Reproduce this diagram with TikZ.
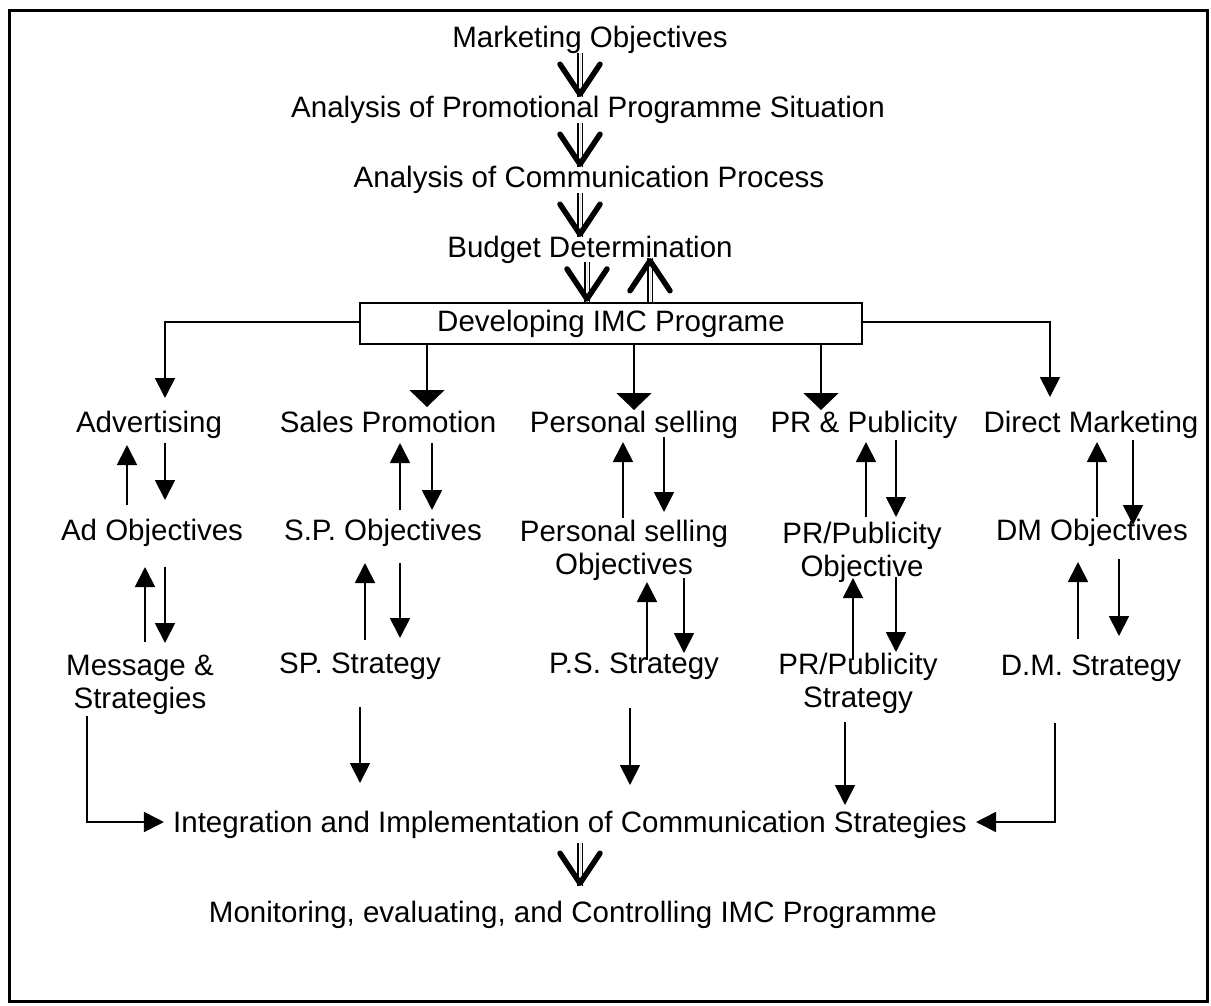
\documentclass[tikz,border=0pt]{standalone}
\usepackage{fontspec}
\setmainfont{Liberation Sans}
\usetikzlibrary{arrows.meta,calc}
\begin{document}
\begin{tikzpicture}[x=1pt,y=-1pt,
  txt/.style={font=\fontsize{29.5pt}{33pt}\selectfont, inner sep=0pt, align=center},
  one/.style={txt, text height=21pt, text depth=6pt},
  ln/.style={line width=1.8pt},
  arr/.style={ln, -{Triangle[width=20pt,length=20pt]}},
  warr/.style={ln, -{Triangle[width=35pt,length=17pt]}},
  elb/.style={ln, -{Triangle[width=20pt,length=20pt]}},
  dshaft/.style={double, double distance=3pt, line width=1.1pt},
  dhead/.style={line width=0.01pt, -{Straight Barb[length=30pt,width=40pt,line width=5.5pt,round]}}
]
\useasboundingbox (0,0) rectangle (1211,1005);
\draw[line width=3pt] (9,10) rectangle (1207,1001);

% planning sequence
\node[one] (mo)  at (590,40)  {Marketing Objectives};
\node[one] (aps) at (588,110) {Analysis of Promotional Programme Situation};
\node[one] (acp) at (589,180) {Analysis of Communication Process};
\node[one] (bd)  at (590,250) {Budget Determination};
\node[txt, draw, line width=2.6pt, minimum width=502pt, minimum height=41pt,
      text height=21pt, text depth=6pt] (imc) at (611,323.5) {Developing IMC Programe};

% promotion tools
\node[one] (adv) at (149,425)  {Advertising};
\node[one] (sp)  at (388,425)  {Sales Promotion};
\node[one] (ps)  at (634,425)  {Personal selling};
\node[one] (pr)  at (864,425)  {PR \& Publicity};
\node[one] (dm)  at (1091,425) {Direct Marketing};

% objectives
\node[one] (adobj) at (152,533)  {Ad Objectives};
\node[one] (spobj) at (383,533)  {S.P. Objectives};
\node[txt] (psobj) at (624,550)  {Personal selling\\Objectives};
\node[txt] (probj) at (862,552)  {PR/Publicity\\Objective};
\node[one] (dmobj) at (1092,533) {DM Objectives};

% strategies
\node[txt] (msg)  at (140,684.5) {Message \&\\Strategies};
\node[one] (spst) at (360,666)   {SP. Strategy};
\node[one] (psst) at (634,666)   {P.S. Strategy};
\node[txt] (prst) at (858,683)   {PR/Publicity\\Strategy};
\node[one] (dmst) at (1091,668)  {D.M. Strategy};

% integration and control
\node[one] (integ) at (570,825) {Integration and Implementation of Communication Strategies};
\node[one] (mon)   at (573,915) {Monitoring, evaluating, and Controlling IMC Programme};

% double arrows down the planning sequence
\foreach \a/\b/\sa/\ta in {mo/aps/{-10,13}/{-8,-13}, aps/acp/{-8,13}/{-9,-13},
                          acp/bd/{-9,13}/{-10,-13}, integ/mon/{10,18}/{7,-29}}{
  \draw[dshaft] ($(\a)+(\sa)$) -- ($(\b)+(\ta)$);
  \draw[dhead]  ($(\a)+(\sa)$) -- ($(\b)+(\ta)$);
}
\draw[dshaft] ($(bd)+(-3,12)$) -- ($(imc.north)+(-24,0)$);
\draw[dhead]  ($(bd)+(-3,12)$) -- ($(imc.north)+(-24,0)$);
\draw[dshaft] ($(imc.north)+(39,0)$) -- ($(bd)+(60,8)$);
\draw[dhead]  ($(imc.north)+(39,0)$) -- ($(bd)+(60,8)$);

% IMC programme to each tool
\draw[elb] ($(imc.west)+(0,-1.5)$) -| ($(adv)+(16,-27)$);
\draw[warr] ($(imc.south)+(-184,0)$) -- ($(sp)+(39,-18)$);
\draw[warr] ($(imc.south)+(23,0)$) -- ($(ps)+(0,-15)$);
\draw[warr] ($(imc.south)+(210,0)$) -- ($(pr)+(-43,-15)$);
\draw[elb] ($(imc.east)+(0,-1.5)$) -| ($(dm)+(-41,-28)$);

% advertising column
\draw[arr] ($(adobj)+(-25,-28)$) -- ($(adv)+(-22,20)$);
\draw[arr] ($(adv)+(16,18)$) -- ($(adobj)+(13,-33)$);
\draw[arr] ($(msg)+(5,-42.5)$) -- ($(adobj)+(-7,34)$);
\draw[arr] ($(adobj)+(13,34)$) -- ($(msg)+(25,-41.5)$);

% sales promotion column
\draw[arr] ($(spobj)+(17,-23)$) -- ($(sp)+(12,18)$);
\draw[arr] ($(sp)+(44,18)$) -- ($(spobj)+(49,-23)$);
\draw[arr] ($(spst)+(5,-26)$) -- ($(spobj)+(-18,30)$);
\draw[arr] ($(spobj)+(17,30)$) -- ($(spst)+(40,-28)$);

% personal selling column
\draw[arr] ($(psobj)+(-1,-32)$) -- ($(ps)+(-11,17)$);
\draw[arr] ($(ps)+(30,12)$) -- ($(psobj)+(40,-38)$);
\draw[arr] ($(psst)+(13,-6)$) -- ($(psobj)+(23,32)$);
\draw[arr] ($(psobj)+(60,28)$) -- ($(psst)+(50,-13)$);

% PR column
\draw[arr] ($(probj)+(4,-35)$) -- ($(pr)+(2,17)$);
\draw[arr] ($(pr)+(32,15)$) -- ($(probj)+(34,-35)$);
\draw[arr] ($(prst)+(-5,-23)$) -- ($(probj)+(-9,26)$);
\draw[arr] ($(probj)+(34,25)$) -- ($(prst)+(38,-31)$);

% direct marketing column
\draw[arr] ($(dmobj)+(5,-16)$) -- ($(dm)+(6,17)$);
\draw[arr] ($(dm)+(42,15)$) -- ($(dmobj)+(41,-8)$);
\draw[arr] ($(dmst)+(-13,-29)$) -- ($(dmobj)+(-14,29)$);
\draw[arr] ($(dmobj)+(27,26)$) -- ($(dmst)+(28,-32)$);

% strategies into integration
\draw[elb] ($(msg)+(-53,31.5)$) |- ($(integ.west)+(-9,-3)$);
\draw[arr] ($(spst)+(0,41)$) -- ($(integ)+(-210,-42)$);
\draw[arr] ($(psst)+(-4,42)$) -- ($(integ)+(60,-40)$);
\draw[arr] ($(prst)+(-13,39)$) -- ($(integ)+(275,-20)$);
\draw[elb] ($(dmst)+(-36,55)$) |- ($(integ.east)+(9,-3)$);
\end{tikzpicture}
\end{document}
